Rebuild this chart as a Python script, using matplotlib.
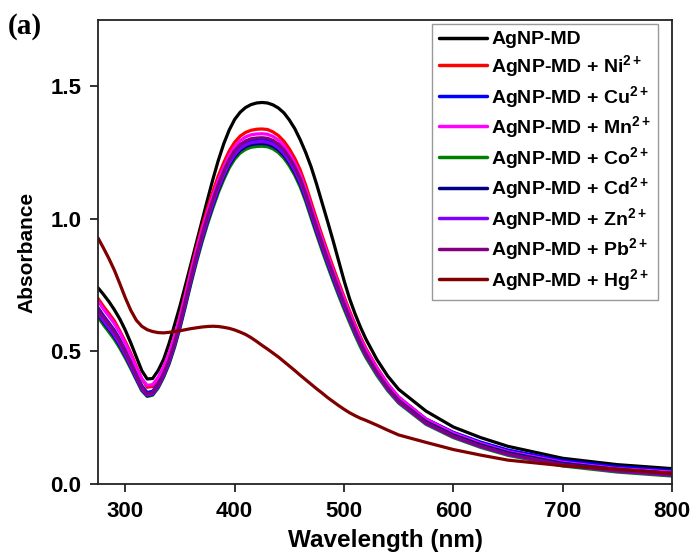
import matplotlib
matplotlib.use("Agg")
import matplotlib.pyplot as plt

plt.rcParams['font.family'] = ['Liberation Sans', 'DejaVu Sans']
plt.rcParams['font.weight'] = 'bold'
plt.rcParams['mathtext.fontset'] = 'custom'
plt.rcParams['mathtext.rm'] = 'Liberation Sans:bold'
plt.rcParams['mathtext.bf'] = 'Liberation Sans:bold'
plt.rcParams['mathtext.it'] = 'Liberation Sans:bold'

wavelength = [275, 280, 285, 290, 295, 300, 305, 310, 315, 320,
              325, 330, 335, 340, 345, 350, 355, 360, 365, 370,
              375, 380, 385, 390, 395, 400, 405, 410, 415, 420,
              425, 430, 435, 440, 445, 450, 455, 460, 465, 470,
              475, 480, 485, 490, 495, 500, 505, 510, 515, 520,
              530, 540, 550, 575, 600, 625, 650, 700, 750, 800]

abs_md = [0.740, 0.715, 0.688, 0.657, 0.622, 0.580, 0.532, 0.480, 0.428, 0.396,
          0.398, 0.428, 0.470, 0.530, 0.600, 0.672, 0.750, 0.830, 0.910, 0.990,
          1.070, 1.148, 1.220, 1.283, 1.335, 1.375, 1.402, 1.420, 1.431, 1.437,
          1.439, 1.437, 1.430, 1.418, 1.400, 1.373, 1.340, 1.298, 1.250, 1.195,
          1.130, 1.060, 0.990, 0.918, 0.843, 0.768, 0.700, 0.643, 0.592, 0.547,
          0.470, 0.407, 0.357, 0.275, 0.215, 0.175, 0.142, 0.097, 0.073, 0.058]
abs_ni = [0.700, 0.670, 0.643, 0.615, 0.577, 0.537, 0.493, 0.445, 0.397, 0.365,
          0.368, 0.397, 0.440, 0.492, 0.558, 0.634, 0.719, 0.807, 0.890, 0.968,
          1.038, 1.102, 1.162, 1.212, 1.256, 1.289, 1.312, 1.326, 1.334, 1.338,
          1.339, 1.337, 1.328, 1.314, 1.293, 1.264, 1.228, 1.184, 1.127, 1.062,
          0.998, 0.936, 0.876, 0.818, 0.762, 0.707, 0.654, 0.603, 0.555, 0.512,
          0.440, 0.377, 0.327, 0.245, 0.193, 0.154, 0.123, 0.083, 0.060, 0.045]
abs_cu = [0.665, 0.635, 0.608, 0.580, 0.545, 0.505, 0.462, 0.416, 0.371, 0.345,
          0.350, 0.378, 0.419, 0.470, 0.534, 0.608, 0.691, 0.777, 0.858, 0.934,
          1.003, 1.066, 1.125, 1.175, 1.219, 1.252, 1.275, 1.289, 1.297, 1.300,
          1.301, 1.299, 1.291, 1.277, 1.256, 1.227, 1.191, 1.147, 1.092, 1.028,
          0.966, 0.905, 0.847, 0.790, 0.736, 0.684, 0.633, 0.585, 0.539, 0.499,
          0.431, 0.373, 0.326, 0.245, 0.195, 0.158, 0.128, 0.088, 0.065, 0.050]
abs_mn = [0.690, 0.660, 0.633, 0.605, 0.570, 0.530, 0.487, 0.441, 0.397, 0.372,
          0.375, 0.402, 0.442, 0.492, 0.556, 0.630, 0.713, 0.799, 0.880, 0.956,
          1.024, 1.087, 1.145, 1.195, 1.239, 1.272, 1.295, 1.309, 1.317, 1.320,
          1.321, 1.319, 1.311, 1.297, 1.276, 1.247, 1.211, 1.167, 1.111, 1.047,
          0.984, 0.923, 0.864, 0.806, 0.751, 0.698, 0.646, 0.596, 0.549, 0.507,
          0.438, 0.377, 0.328, 0.244, 0.192, 0.153, 0.122, 0.082, 0.058, 0.045]
abs_co = [0.630, 0.600, 0.573, 0.545, 0.512, 0.475, 0.435, 0.393, 0.352, 0.330,
          0.335, 0.362, 0.402, 0.452, 0.515, 0.588, 0.670, 0.755, 0.835, 0.910,
          0.978, 1.040, 1.098, 1.148, 1.192, 1.225, 1.248, 1.262, 1.270, 1.273,
          1.274, 1.272, 1.264, 1.250, 1.229, 1.200, 1.164, 1.120, 1.065, 1.002,
          0.940, 0.880, 0.822, 0.766, 0.712, 0.660, 0.610, 0.562, 0.517, 0.477,
          0.410, 0.352, 0.305, 0.225, 0.175, 0.138, 0.108, 0.068, 0.045, 0.030]
abs_cd = [0.640, 0.610, 0.583, 0.555, 0.521, 0.483, 0.442, 0.398, 0.356, 0.333,
          0.338, 0.366, 0.407, 0.457, 0.521, 0.594, 0.677, 0.762, 0.843, 0.918,
          0.987, 1.049, 1.108, 1.158, 1.202, 1.235, 1.258, 1.272, 1.280, 1.283,
          1.284, 1.282, 1.274, 1.260, 1.239, 1.210, 1.174, 1.130, 1.075, 1.012,
          0.950, 0.890, 0.832, 0.776, 0.722, 0.670, 0.620, 0.572, 0.527, 0.487,
          0.420, 0.362, 0.315, 0.235, 0.185, 0.148, 0.118, 0.078, 0.055, 0.040]
abs_zn = [0.645, 0.615, 0.588, 0.560, 0.526, 0.487, 0.445, 0.401, 0.358, 0.335,
          0.340, 0.368, 0.409, 0.460, 0.524, 0.598, 0.681, 0.767, 0.848, 0.924,
          0.993, 1.056, 1.115, 1.165, 1.209, 1.242, 1.265, 1.279, 1.287, 1.290,
          1.291, 1.289, 1.281, 1.267, 1.246, 1.217, 1.181, 1.137, 1.081, 1.018,
          0.955, 0.895, 0.836, 0.780, 0.725, 0.673, 0.622, 0.573, 0.527, 0.486,
          0.417, 0.357, 0.309, 0.228, 0.178, 0.141, 0.111, 0.071, 0.048, 0.033]
abs_pb = [0.660, 0.630, 0.603, 0.575, 0.540, 0.500, 0.456, 0.410, 0.365, 0.340,
          0.345, 0.374, 0.416, 0.468, 0.533, 0.608, 0.692, 0.779, 0.861, 0.938,
          1.008, 1.071, 1.130, 1.180, 1.224, 1.257, 1.280, 1.294, 1.302, 1.305,
          1.306, 1.304, 1.296, 1.282, 1.261, 1.232, 1.196, 1.152, 1.096, 1.032,
          0.969, 0.908, 0.849, 0.792, 0.737, 0.683, 0.631, 0.581, 0.534, 0.492,
          0.422, 0.362, 0.313, 0.231, 0.180, 0.143, 0.113, 0.073, 0.050, 0.035]
abs_hg = [0.928, 0.890, 0.850, 0.806, 0.755, 0.702, 0.655, 0.618, 0.595, 0.582,
          0.575, 0.571, 0.570, 0.572, 0.575, 0.578, 0.582, 0.586, 0.589, 0.592,
          0.594, 0.595, 0.594, 0.591, 0.587, 0.581, 0.573, 0.564, 0.552, 0.538,
          0.523, 0.509, 0.494, 0.479, 0.462, 0.445, 0.428, 0.410, 0.393, 0.376,
          0.359, 0.343, 0.326, 0.311, 0.296, 0.282, 0.269, 0.258, 0.248, 0.240,
          0.222, 0.203, 0.185, 0.157, 0.130, 0.109, 0.090, 0.069, 0.056, 0.040]

labels = ['AgNP-MD',
          r'AgNP-MD + Ni$^{\mathbf{2+}}$',
          r'AgNP-MD + Cu$^{\mathbf{2+}}$',
          r'AgNP-MD + Mn$^{\mathbf{2+}}$',
          r'AgNP-MD + Co$^{\mathbf{2+}}$',
          r'AgNP-MD + Cd$^{\mathbf{2+}}$',
          r'AgNP-MD + Zn$^{\mathbf{2+}}$',
          r'AgNP-MD + Pb$^{\mathbf{2+}}$',
          r'AgNP-MD + Hg$^{\mathbf{2+}}$']
series = [abs_md, abs_ni, abs_cu, abs_mn, abs_co, abs_cd, abs_zn, abs_pb, abs_hg]
colors = ['#000000', '#ff0000', '#0000ff', '#ff00ff', '#008000', '#000080',
          '#8000ff', '#800080', '#800000']

x_ticks = [300, 400, 500, 600, 700, 800]
y_ticks = [0.0, 0.5, 1.0, 1.5]

fig = plt.figure(figsize=(6.94, 5.55), dpi=100)
ax = fig.add_axes([98 / 694, 1 - 484 / 555, (672 - 98) / 694, (484 - 20) / 555])

for ys, c, lab in zip(series, colors, labels):
    ax.plot(wavelength, ys, color=c, lw=2.3, label=lab,
            solid_joinstyle='round', solid_capstyle='round')

ax.set_xlim(275, 800)
ax.set_ylim(0, 1.75)
ax.set_xticks(x_ticks)
ax.set_yticks(y_ticks)
ax.set_yticklabels([f'{v:.1f}' for v in y_ticks])
ax.tick_params(axis='both', direction='out', length=6, width=1.3, labelsize=16,
               pad=6, color='#222222')
for lab in ax.get_xticklabels() + ax.get_yticklabels():
    lab.set_fontweight('bold')
for sp in ax.spines.values():
    sp.set_linewidth(1.3)
    sp.set_color('#222222')

ax.set_xlabel('Wavelength (nm)', fontsize=17.5, fontweight='bold', labelpad=5)
ax.set_ylabel('Absorbance', fontsize=15, fontweight='bold', labelpad=10)

leg = ax.legend(loc='upper right', bbox_to_anchor=(0.9756, 0.9914), fontsize=14,
                frameon=True, fancybox=False, edgecolor='#808080', handlelength=2.5,
                handletextpad=0.2, labelspacing=0.24, borderpad=0.35, borderaxespad=0.0)
leg.get_frame().set_linewidth(1.0)
for line in leg.get_lines():
    line.set_linewidth(2.5)

fig.text(8 / 694, 1 - 27 / 555, '(a)', fontsize=21, fontweight='bold',
         family='Liberation Serif', va='center', ha='left')

fig.savefig('out.png', dpi=100)
